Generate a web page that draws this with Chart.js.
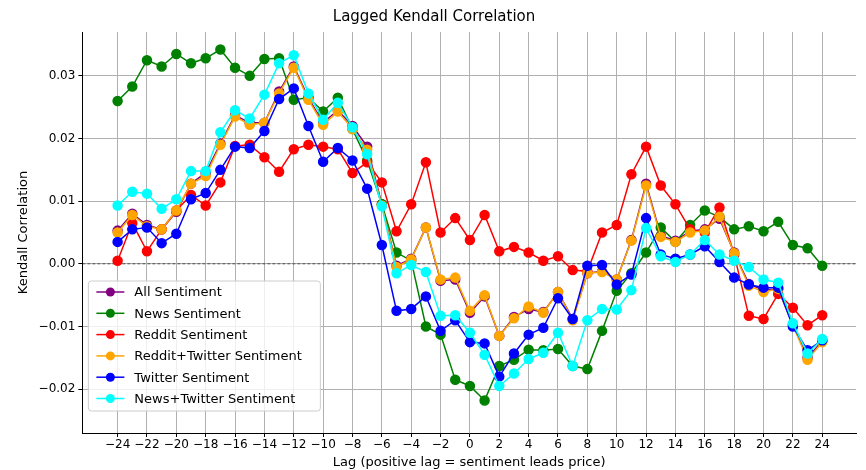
<!DOCTYPE html>
<html><head><meta charset="utf-8">
<script src="https://cdn.jsdelivr.net/npm/chart.js@4"></script>
<style>body{margin:0;background:#fff}#wrap{width:866px;height:470px}</style>
</head><body><div id="wrap"><canvas id="c"></canvas></div>
<script>
const lags = [];
for (let l = -24; l <= 24; l++) lags.push(l);
const xTicks = [-24,-22,-20,-18,-16,-14,-12,-10,-8,-6,-4,-2,0,2,4,6,8,10,12,14,16,18,20,22,24];

const allSent = [.0053,.008,.0062,.0055,.0083,.0128,.0145,.0192,.0237,.0225,.0225,.0275,.0315,.0265,.0225,.0245,.022,.0187,.0095,-.0003,.0008,.0058,-.0027,-.0025,-.0078,-.0052,-.0115,-.0085,-.0072,-.0077,-.0045,-.0088,-.0015,-.0012,-.0025,.0038,.0128,.0045,.0037,.0052,.0055,.0072,.0018,-.0032,-.0042,-.004,-.0097,-.015,-.0123];
const newsSent = [.026,.0283,.0325,.0315,.0335,.032,.0328,.0342,.0313,.030,.0327,.0328,.0262,.0265,.0243,.0265,.0215,.0165,.0095,.0018,.0005,-.01,-.0113,-.0185,-.0195,-.0218,-.0163,-.0153,-.0137,-.0138,-.0136,-.0163,-.0168,-.0107,-.0043,-.0015,.0018,.0058,.0035,.0062,.0085,.0075,.0055,.006,.0052,.0067,.003,.0025,-.0003];
const redditSent = [.0005,.0065,.002,.0055,.0085,.011,.0093,.013,.0188,.019,.017,.0147,.0183,.019,.0187,.0183,.0145,.0162,.013,.0052,.0095,.0162,.005,.0073,.0038,.0078,.002,.0027,.0018,.0005,.0012,-.001,-.0012,.005,.0062,.0143,.0187,.0125,.0095,.0055,.005,.009,.0015,-.0083,-.0088,-.0048,-.007,-.0098,-.0082];
const rtSent = [.005,.0078,.006,.0055,.0085,.0128,.014,.019,.0235,.0222,.0225,.0272,.0313,.0262,.0222,.0243,.0215,.0182,.0093,-.0005,.0007,.0058,-.0025,-.0022,-.0075,-.005,-.0115,-.0087,-.0068,-.0078,-.0045,-.009,-.0015,-.0013,-.0025,.0037,.0125,.0043,.0035,.005,.0053,.0075,.0017,-.0035,-.0045,-.004,-.0098,-.0153,-.0125];
const twitterSent = [.0035,.0055,.0058,.0033,.0048,.0103,.0113,.015,.0187,.0185,.0212,.0263,.028,.022,.0163,.0185,.0165,.012,.003,-.0075,-.0072,-.0052,-.0107,-.009,-.0125,-.0127,-.018,-.0143,-.0113,-.0102,-.0055,-.0088,-.0003,-.0002,-.0033,-.0017,.0073,.0015,.0008,.0015,.0028,.0003,-.0022,-.0033,-.0038,-.0038,-.01,-.0138,-.0122];
const ntSent = [.0093,.0115,.0112,.0088,.0103,.0148,.0148,.021,.0245,.0232,.027,.032,.0333,.0272,.023,.0257,.0218,.0175,.0092,-.0015,-.0002,-.0013,-.0083,-.0082,-.011,-.0145,-.0195,-.0175,-.0152,-.0142,-.011,-.0163,-.009,-.0072,-.0073,-.0042,.0057,.0012,.0003,.0015,.0038,.0015,.0005,-.0005,-.0025,-.003,-.0095,-.0143,-.012];

const series = [
  ['All Sentiment', allSent, 'purple'],
  ['News Sentiment', newsSent, 'green'],
  ['Reddit Sentiment', redditSent, 'red'],
  ['Reddit+Twitter Sentiment', rtSent, 'orange'],
  ['Twitter Sentiment', twitterSent, 'blue'],
  ['News+Twitter Sentiment', ntSent, 'cyan']
];

// dashed zero line + legend box inside the plot
const extras = {
  id: 'extras',
  beforeDatasetsDraw(chart) {
    const {ctx, chartArea: a, scales: {y}} = chart;
    const py = y.getPixelForValue(0);
    ctx.save();
    ctx.strokeStyle = '#000'; ctx.lineWidth = 0.6; ctx.setLineDash([3, 2]);
    ctx.beginPath(); ctx.moveTo(a.left, py); ctx.lineTo(a.right, py); ctx.stroke();
    ctx.restore();
  },
  afterDraw(chart) {
    const {ctx, chartArea: a} = chart;
    const x0 = a.left + 6, y0 = 281, w = 232, h = 130, row = 21.3;
    ctx.save();
    ctx.fillStyle = 'rgba(255,255,255,0.8)'; ctx.strokeStyle = '#ccc'; ctx.lineWidth = 1;
    ctx.beginPath(); ctx.roundRect(x0, y0, w, h, 3); ctx.fill(); ctx.stroke();
    ctx.font = '13px "DejaVu Sans"'; ctx.textBaseline = 'middle';
    series.forEach((s, i) => {
      const cy = y0 + 11 + i * row;
      ctx.strokeStyle = s[2]; ctx.fillStyle = s[2]; ctx.lineWidth = 1.5;
      ctx.beginPath(); ctx.moveTo(x0 + 8, cy); ctx.lineTo(x0 + 36, cy); ctx.stroke();
      ctx.beginPath(); ctx.arc(x0 + 22, cy, 4.5, 0, Math.PI * 2); ctx.fill();
      ctx.fillStyle = '#000'; ctx.fillText(s[0], x0 + 46, cy + 1);
    });
    ctx.restore();
  }
};

new Chart(document.getElementById('c'), {
  type: 'line',
  data: {
    datasets: series.map((s, i) => ({
      label: s[0],
      data: lags.map((l, k) => ({x: l, y: s[1][k]})),
      borderColor: s[2], backgroundColor: s[2],
      borderWidth: 1.5, pointRadius: 4.5, pointHoverRadius: 4.5, tension: 0,
      order: series.length - i // later series drawn on top, like matplotlib
    }))
  },
  options: {
    responsive: true, maintainAspectRatio: false, animation: false,
    layout: {padding: {left: 12, right: 10, top: 2, bottom: 0}},
    scales: {
      x: {
        type: 'linear', min: -26.4, max: 26.3,
        afterBuildTicks: ax => { ax.ticks = xTicks.map(v => ({value: v})); },
        ticks: {color: '#000', padding: 1, font: {size: 12, family: 'DejaVu Sans'}, callback: v => (v < 0 ? '\u2212' + (-v) : v)},
        grid: {color: '#b0b0b0', tickColor: '#000', drawTicks: true, tickLength: 4},
        border: {color: '#000'},
        title: {display: true, text: 'Lag (positive lag = sentiment leads price)', color: '#000', padding: {top: 1, bottom: 0}, font: {size: 13, family: 'DejaVu Sans'}}
      },
      y: {
        min: -0.027, max: 0.037,
        afterBuildTicks: ax => { ax.ticks = [-0.02,-0.01,0,0.01,0.02,0.03].map(v => ({value: v})); },
        ticks: {color: '#000', font: {size: 12, family: 'DejaVu Sans'}, callback: v => (v < 0 ? '\u2212' + (-v).toFixed(2) : v.toFixed(2))},
        grid: {color: '#b0b0b0', tickColor: '#000', tickLength: 4},
        border: {color: '#000'},
        title: {display: true, text: 'Kendall Correlation', color: '#000', font: {size: 13, family: 'DejaVu Sans'}}
      }
    },
    plugins: {
      legend: {display: false},
      tooltip: {enabled: false},
      title: {display: true, text: 'Lagged Kendall Correlation', color: '#000', font: {size: 15, weight: 'normal', family: 'DejaVu Sans'}, padding: {top: 6, bottom: 6}}
    }
  },
  plugins: [extras]
});
</script></body></html>
